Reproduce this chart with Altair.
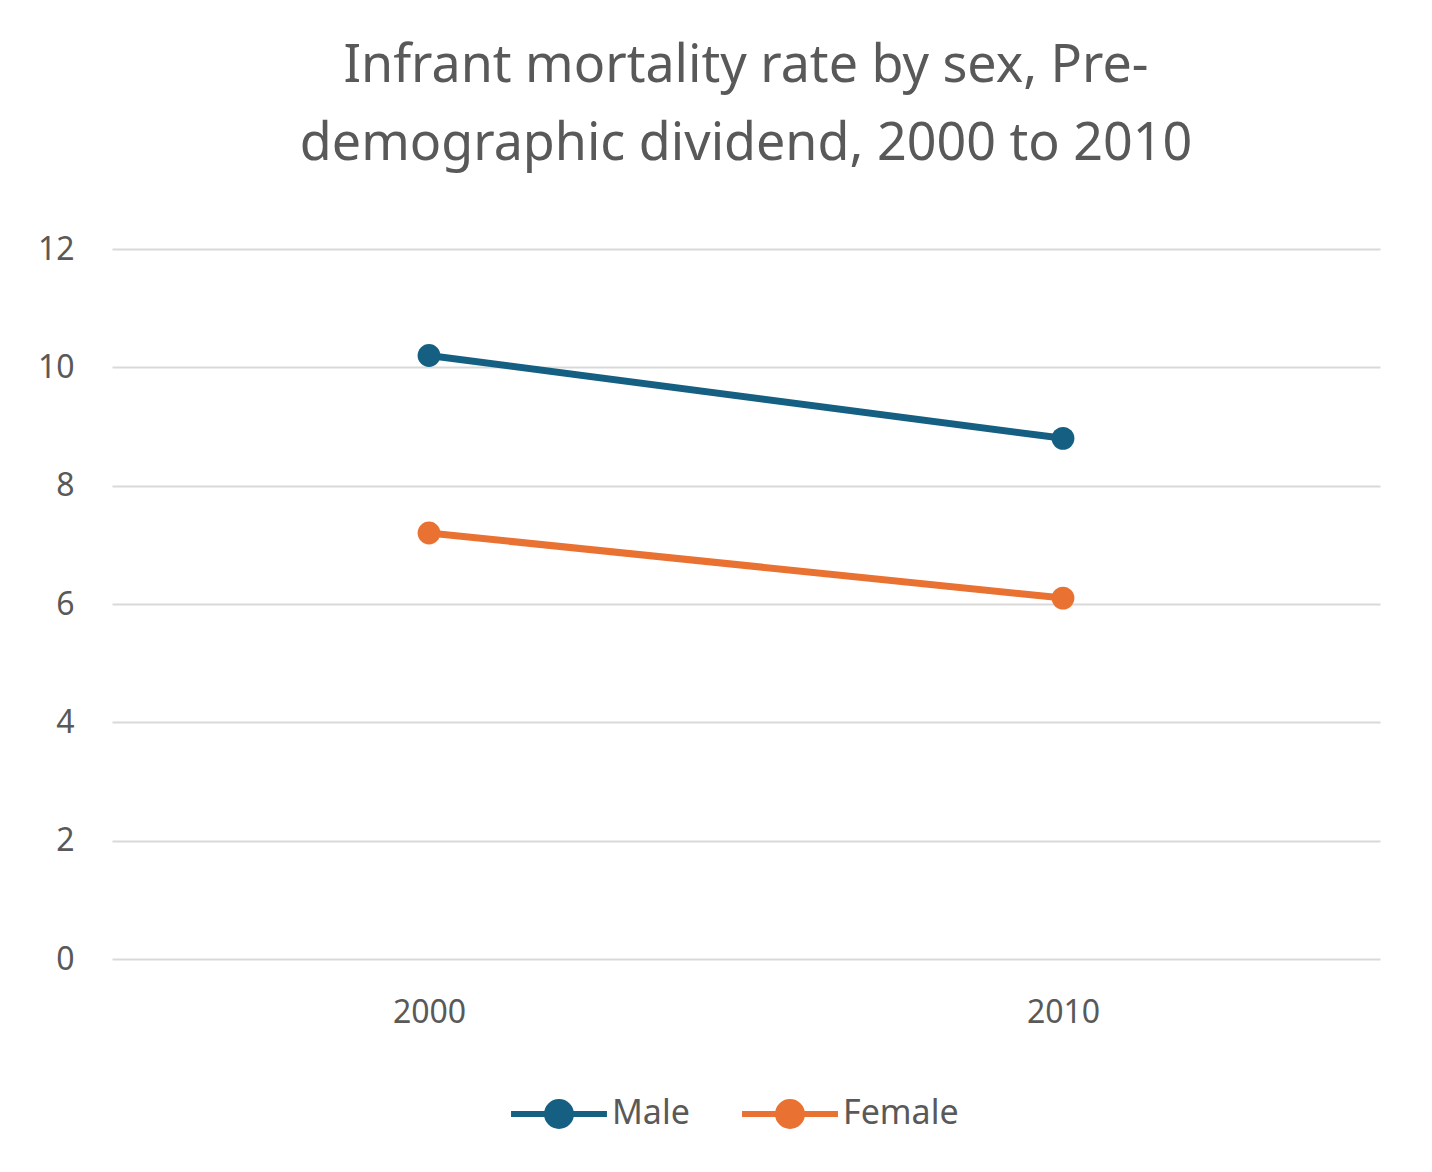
import pandas as pd
import altair as alt

years = ["2000", "2010"]
male = [10.2, 8.8]
female = [7.2, 6.1]

df = pd.DataFrame({
    "Year": years * 2,
    "Rate": male + female,
    "Sex": ["Male"] * 2 + ["Female"] * 2,
})

color = alt.Color(
    "Sex:N",
    scale=alt.Scale(domain=["Male", "Female"], range=["#156082", "#E97132"]),
    legend=alt.Legend(
        orient="none", direction="horizontal", legendX=420, legendY=838,
        title=None, labelFontSize=34, labelColor="#595959", labelFont="Noto Sans",
        symbolType="M-2,0L2,0M-0.5,0A0.5,0.5 0 1,0 0.5,0A0.5,0.5 0 1,0 -0.5,0",
        symbolSize=2300, symbolStrokeWidth=6, symbolOffset=0, columnPadding=40, labelOffset=26,
    ),
)

base = alt.Chart(df).encode(
    x=alt.X("Year:N", scale=alt.Scale(paddingOuter=0.5, paddingInner=1),
            axis=alt.Axis(title=None, labelAngle=0, labelFontSize=32, labelColor="#595959",
                          labelFont="Noto Sans", domain=False, ticks=False, labelPadding=38)),
    y=alt.Y("Rate:Q", scale=alt.Scale(domain=[0, 12]),
            axis=alt.Axis(title=None, values=[0, 2, 4, 6, 8, 10, 12], labelFontSize=32,
                          labelColor="#595959", labelFont="Noto Sans", domain=False, ticks=False,
                          labelPadding=38, gridColor="#D9D9D9", gridWidth=2)),
    color=color,
)

chart = (
    base.mark_line(strokeWidth=7)
    + base.mark_point(filled=True, opacity=1, size=520)
).properties(
    width=1268, height=710,
    autosize=alt.AutoSizeParams(type="none"),
    padding={"left": 104, "top": 241, "right": 44, "bottom": 205},
    title=alt.Title(
        ["Infrant mortality rate by sex, Pre-", "demographic dividend, 2000 to 2010"],
        fontSize=52, font="Noto Sans", fontWeight="normal", color="#595959",
        lineHeight=78, offset=62, anchor="middle",
    ),
).configure(background="white").configure_view(strokeWidth=0)

chart.save("out.html", embed_options={"renderer": "svg", "actions": False})
